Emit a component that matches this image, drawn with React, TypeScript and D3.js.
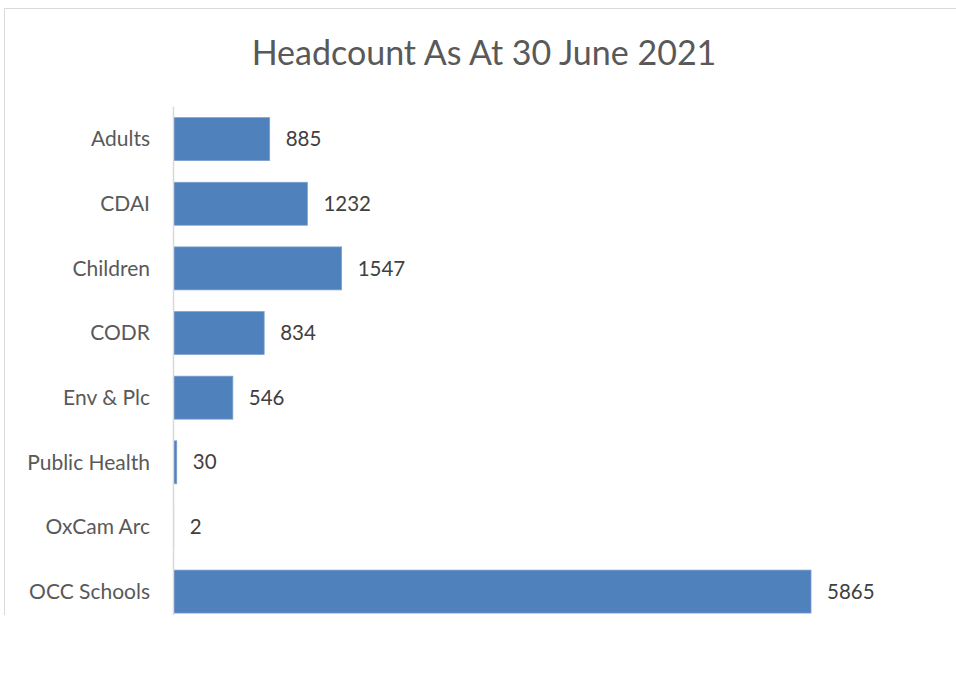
import React from "react";
import * as d3 from "d3";

const categories = ["Adults", "CDAI", "Children", "CODR", "Env & Plc", "Public Health", "OxCam Arc", "OCC Schools"];
const values = [885, 1232, 1547, 834, 546, 30, 2, 5865];
const title = "Headcount As At 30 June 2021";

const W = 956;
const H = 678;
const FONT = "Lato, 'Open Sans', sans-serif";

export default function App() {
  const x = d3.scaleLinear().domain([0, 7000]).range([173.5, 934.4]);
  const y = d3.scaleBand<string>().domain(categories).range([106.8, 623.9]).paddingInner(0.335).paddingOuter(0.1675);
  const bw = y.bandwidth();
  return (
    <svg width={W} height={H} style={{ position: "absolute", left: 0, top: 0, background: "#fff" }}>
      <defs>
        <clipPath id="clip">
          <rect x={0} y={0} width={W} height={615} />
        </clipPath>
      </defs>
      <rect x={0} y={0} width={W} height={H} fill="#fff" />
      <g clipPath="url(#clip)">
        <line x1={4.5} x2={W} y1={8.5} y2={8.5} stroke="#d9d9d9" strokeWidth={1} />
        <line x1={4.5} x2={4.5} y1={8.5} y2={H} stroke="#d9d9d9" strokeWidth={1} />
        <text x={484} y={65} textAnchor="middle" fontFamily={FONT} fontSize={34} fill="#595959">
          {title}
        </text>
        {categories.map((c, i) => (
          <g key={c}>
            <rect
              x={x(0)}
              y={y(c)!}
              width={Math.max(0, x(values[i]) - x(0))}
              height={bw}
              fill="#4f81bd"
              stroke="#7da0cf"
              strokeWidth={0.75}
            />
            <text x={150} y={y(c)! + bw / 2} dy="0.35em" textAnchor="end" fontFamily={FONT} fontSize={21} fill="#595959">
              {c}
            </text>
            <text x={x(values[i]) + 16} y={y(c)! + bw / 2} dy="0.35em" textAnchor="start" fontFamily={FONT} fontSize={20.5} fill="#404040">
              {values[i]}
            </text>
          </g>
        ))}
        <line x1={173.5} x2={173.5} y1={106.8} y2={623.9} stroke="#d9d9d9" strokeWidth={1.5} />
      </g>
    </svg>
  );
}
